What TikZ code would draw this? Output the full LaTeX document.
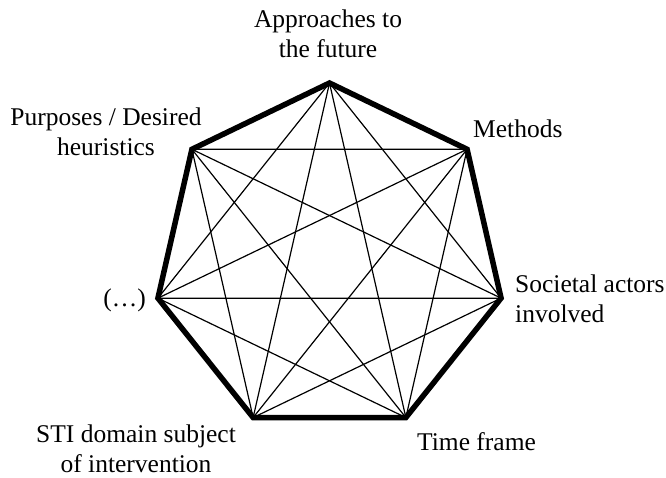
\documentclass[tikz,border=0pt]{standalone}
\usepackage{fontspec}
\setmainfont{Liberation Serif}
\begin{document}
\begin{tikzpicture}[x=1pt,y=-1pt,
  lbl/.style={font=\fontsize{25.5}{30}\selectfont, inner sep=0pt, align=center, anchor=base},
  lbll/.style={font=\fontsize{25.5}{30}\selectfont, inner sep=0pt, align=left, anchor=base west},
  edge/.style={line width=5.5pt, line join=miter},
  diag/.style={line width=1.2pt}]
\useasboundingbox (0,0) rectangle (666,477);
\foreach \i in {0,...,6} {
  \coordinate (v\i) at ({329.5+176*cos(90-\i*360/7)}, {259-176*sin(90-\i*360/7)});
}
\foreach \i in {0,...,6} {
  \foreach \j in {2,3} {
    \pgfmathtruncatemacro\k{mod(\i+\j,7)}
    \draw[diag] (v\i) -- (v\k);
  }
}
\draw[edge] (v0) -- (v1) -- (v2) -- (v3) -- (v4) -- (v5) -- (v6) -- cycle;
\node[lbl] (approach) at (328,57.5) {Approaches to\\the future};
\node[lbl] (purposes) at (106,155.5) {Purposes / Desired\\heuristics};
\node[lbll] (methods) at (473,137) {Methods};
\node[lbl, anchor=base east] (dots) at (146,306) {(…)};
\node[lbll] (societal) at (515,322) {Societal actors\\involved};
\node[lbl] (sti) at (136,472) {STI domain subject\\of intervention};
\node[lbll] (time) at (417,450) {Time frame};
\end{tikzpicture}
\end{document}
